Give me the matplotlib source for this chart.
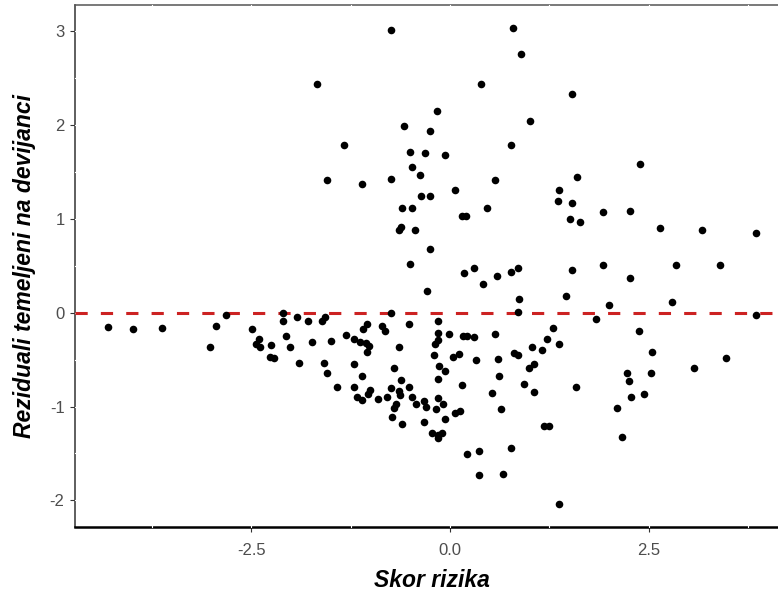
import matplotlib
matplotlib.use("Agg")
import matplotlib.pyplot as plt
import numpy as np

plt.rcParams['font.family'] = ['Liberation Sans', 'DejaVu Sans']
plt.rcParams['axes.unicode_minus'] = False

# risk score (x) and deviance residuals (y)
skor = [
    -4.311, -3.991, -3.626, -3.019, -2.943, -2.821, -2.494, -2.411, -2.440, -2.390,
    -2.255, -2.264, -2.214, -2.097, -2.097, -2.067, -2.013, -1.896, -1.928, -1.790,
    -1.732, -1.606, -1.572, -1.585, -1.543, -1.497,
    -0.742, -1.669, 0.386, -0.160, -0.579, -0.255, -1.330, -0.499, -0.318, -0.059,
    -0.474, -0.374, -1.547, -1.107, -0.742, 0.570, 0.063, -0.365, -0.255, -0.600,
    -0.478, 0.469, 0.155, 0.201, -0.642, -0.620, -0.440, -0.255, -0.503, 0.180,
    0.302, 0.411, 0.587, -0.286,
    0.789, 0.889, 1.538, 1.010, 0.767, 2.386, 1.601, 1.375, 1.355, 1.538,
    1.921, 2.264, 1.513, 1.635, 2.645, 3.170, 3.853,
    0.767, 0.852, 1.538, 1.921, 2.846, 3.392, 2.264, 1.459, 0.872, 2.789,
    2.000, 0.855, 1.836, 3.853, 0.566, 1.296, 1.216, 1.375, 2.381, 1.031,
    1.153, 0.805, 0.859, 0.604, 2.545, 3.472, 0.994, 1.057, 0.616, 2.223,
    2.248, 2.528, 3.069, 0.931, 1.053, 1.581, 0.531, 2.281, 2.440, 0.642,
    2.101, 1.186, 1.245, 2.164, 0.767, 0.670, 1.375, 0.210, 0.365, 0.365,
    -0.746, -1.040, -1.091, -0.859, -0.818, -0.516, -1.312, -1.208, -1.132, -1.057,
    -1.015, -1.040, -0.642, -1.208, -1.103, -0.701, -0.620, -1.425, -1.208, -1.006,
    -1.028, -1.166, -1.103, -0.902, -0.789, -0.742, -0.642, -0.629, -0.519, -0.683,
    -0.701, -0.482, -0.431, -0.726, -0.604,
    -0.155, -0.155, -0.155, -0.189, -0.016, 0.160, 0.210, 0.306, -0.201, 0.042,
    0.113, 0.327, -0.135, -0.059, -0.155, 0.147, -0.327, -0.306, -0.151, -0.092,
    -0.176, 0.063, 0.130, -0.059, -0.327, -0.223, -0.155, -0.104, -0.147,
]
rezidual = [
    -0.148, -0.176, -0.159, -0.365, -0.144, -0.023, -0.176, -0.279, -0.333, -0.368,
    -0.346, -0.468, -0.485, -0.005, -0.087, -0.247, -0.365, -0.535, -0.042, -0.087,
    -0.314, -0.084, -0.048, -0.535, -0.639, -0.301,
    3.018, 2.439, 2.439, 2.148, 1.991, 1.941, 1.789, 1.717, 1.704, 1.686,
    1.551, 1.466, 1.413, 1.376, 1.430, 1.413, 1.309, 1.242, 1.242, 1.120,
    1.120, 1.120, 1.035, 1.035, 0.883, 0.918, 0.886, 0.680, 0.520, 0.421,
    0.478, 0.304, 0.389, 0.232,
    3.033, 2.762, 2.333, 2.042, 1.789, 1.583, 1.448, 1.309, 1.192, 1.174,
    1.071, 1.088, 1.003, 0.968, 0.901, 0.883, 0.848,
    0.438, 0.474, 0.456, 0.506, 0.506, 0.506, 0.368, 0.182, 0.147, 0.112,
    0.080, 0.005, -0.063, -0.027, -0.226, -0.162, -0.279, -0.329, -0.194, -0.365,
    -0.397, -0.432, -0.453, -0.498, -0.415, -0.482, -0.588, -0.549, -0.674, -0.639,
    -0.724, -0.639, -0.588, -0.759, -0.841, -0.791, -0.857, -0.894, -0.862, -1.031,
    -1.015, -1.204, -1.204, -1.321, -1.441, -1.715, -2.038, -1.505, -1.473, -1.732,
    0.001, -0.119, -0.176, -0.141, -0.194, -0.123, -0.240, -0.279, -0.308, -0.325,
    -0.354, -0.415, -0.361, -0.546, -0.671, -0.585, -0.720, -0.791, -0.791, -0.823,
    -0.866, -0.894, -0.930, -0.922, -0.894, -0.805, -0.834, -0.876, -0.791, -0.972,
    -1.018, -0.901, -0.975, -1.111, -1.186,
    -0.087, -0.219, -0.285, -0.333, -0.226, -0.244, -0.244, -0.261, -0.447, -0.468,
    -0.442, -0.503, -0.564, -0.624, -0.706, -0.773, -0.937, -1.001, -0.912, -0.972,
    -1.026, -1.065, -1.044, -1.132, -1.167, -1.285, -1.303, -1.285, -1.338,
]

x_ticks = [-2.5, 0.0, 2.5]
y_ticks = [-2, -1, 0, 1, 2, 3]
x_minor = [-3.75, -1.25, 1.25, 3.75]
y_minor = [-1.5, -0.5, 0.5, 1.5, 2.5]

fig = plt.figure(figsize=(7.78, 5.91), dpi=100)
# panel runs a bit past the right edge, like the cropped original
ax = fig.add_axes([75 / 778, 64 / 591, (788.7 - 75) / 778, (527 - 4.5) / 591])
ax.set_xlim(-4.72, 4.26)
ax.set_ylim(-2.284, 3.287)

ax.spines['right'].set_visible(False)
ax.spines['left'].set_color('#333333')
ax.spines['left'].set_linewidth(1.1)
ax.spines['bottom'].set_color('black')
ax.spines['bottom'].set_linewidth(1.8)
ax.spines['top'].set_color('#555555')
ax.spines['top'].set_linewidth(1.1)

# white grid lines show as small breaks in the frame
for v in x_ticks + x_minor:
    ax.axvline(v, color='white', lw=0.8, zorder=2.6, clip_on=False)
for v in y_ticks + y_minor:
    ax.axhline(v, color='white', lw=0.8, zorder=2.6, clip_on=False)

ax.axhline(0, color='#CC2222', lw=2.2, dashes=(4, 4.3), zorder=2.9)
ax.scatter(skor, rezidual, s=30, color='black', linewidths=0, zorder=3)

ax.set_xticks(x_ticks)
ax.set_xticklabels([f"{v:.1f}" for v in x_ticks])
ax.set_yticks(y_ticks)
ax.set_yticklabels([str(v) for v in y_ticks])
ax.tick_params(axis='both', length=3.5, width=0.8, color='#333333',
               labelcolor='#4D4D4D', labelsize=12)
ax.tick_params(axis='x', pad=8)
ax.tick_params(axis='y', pad=4)

ax.set_xlabel("Skor rizika", fontsize=16.5, fontweight='bold', fontstyle='italic', labelpad=8)
ax.set_ylabel("Reziduali temeljeni na devijanci", fontsize=16.5, fontweight='bold',
              fontstyle='italic', labelpad=10)

fig.savefig("out.png", dpi=100)
